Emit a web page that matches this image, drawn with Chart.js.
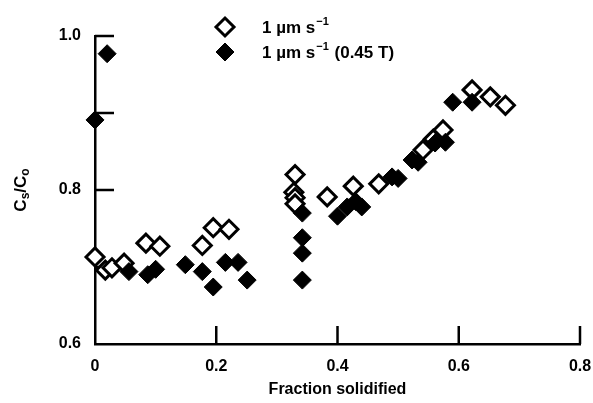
<!DOCTYPE html>
<html>
<head>
<meta charset="utf-8">
<script src="https://cdn.jsdelivr.net/npm/chart.js@4"></script>
<style>
  body { margin: 0; background: #fff; }
  canvas { display: block; }
</style>
</head>
<body>
<canvas id="chart" width="593" height="403"></canvas>
<script>
// 1 um/s (open diamonds)
const openX = [0.0, 0.017, 0.028, 0.048, 0.084, 0.107, 0.177, 0.195, 0.221, 0.330, 0.328, 0.330, 0.330, 0.383, 0.426, 0.468, 0.541, 0.558, 0.574, 0.622, 0.652, 0.677];
const openY = [0.713, 0.696, 0.699, 0.705, 0.731, 0.727, 0.728, 0.751, 0.749, 0.820, 0.797, 0.790, 0.782, 0.791, 0.805, 0.808, 0.852, 0.866, 0.878, 0.930, 0.921, 0.910];
// 1 um/s with 0.45 T field (filled diamonds)
const filledX = [0.020, 0.0, 0.056, 0.087, 0.100, 0.149, 0.177, 0.195, 0.215, 0.236, 0.251, 0.342, 0.342, 0.342, 0.342, 0.400, 0.416, 0.430, 0.440, 0.490, 0.500, 0.523, 0.533, 0.561, 0.578, 0.590, 0.622];
const filledY = [0.977, 0.891, 0.694, 0.690, 0.697, 0.703, 0.694, 0.674, 0.706, 0.706, 0.683, 0.770, 0.738, 0.718, 0.683, 0.766, 0.778, 0.785, 0.778, 0.817, 0.815, 0.839, 0.836, 0.861, 0.862, 0.914, 0.914];

const xTicks = [0, 0.2, 0.4, 0.6, 0.8];
const yTickLabels = ['0.6', '0.8', '1.0'];
const seriesLabels = ['1 \u00b5m s', '1 \u00b5m s'];

const FONT = '"Liberation Sans", Arial, sans-serif';

const toPoints = (xs, ys) => xs.map((x, i) => ({ x: x, y: ys[i] }));

// inward tick marks, the library only draws them outward
const innerTicks = {
    id: 'innerTicks',
    beforeDatasetsDraw(chart) {
        const ctx = chart.ctx;
        const x = chart.scales.x, y = chart.scales.y;
        ctx.save();
        ctx.strokeStyle = '#000';
        ctx.lineWidth = 2.5;
        ctx.beginPath();
        xTicks.forEach(v => {
            if (v === 0) return;
            const px = x.getPixelForValue(v);
            ctx.moveTo(px, y.bottom);
            ctx.lineTo(px, y.bottom - 18);
        });
        [0.7, 0.8, 0.9, 1.0].forEach(v => {
            const py = y.getPixelForValue(v);
            ctx.moveTo(x.left, py);
            ctx.lineTo(x.left + 19, py);
        });
        ctx.stroke();
        ctx.restore();
    }
};

// legend and y title with sub/superscripts
const labelsPlugin = {
    id: 'labelsPlugin',
    afterDraw(chart) {
        const ctx = chart.ctx;
        ctx.save();
        ctx.textBaseline = 'middle';
        ctx.textAlign = 'left';

        const rows = [27, 52];
        rows.forEach((ry, i) => {
            const ds = chart.data.datasets[i];
            ctx.fillStyle = ds.backgroundColor;
            ctx.strokeStyle = '#000';
            ctx.lineWidth = ds.borderWidth;
            ctx.beginPath();
            ctx.moveTo(225, ry - 9); ctx.lineTo(234, ry); ctx.lineTo(225, ry + 9); ctx.lineTo(216, ry);
            ctx.closePath();
            ctx.fill();
            ctx.stroke();

            ctx.fillStyle = '#000';
            ctx.font = 'bold 17px ' + FONT;
            let tx = 262;
            ctx.fillText(seriesLabels[i], tx, ry + 1);
            tx += ctx.measureText(seriesLabels[i]).width + 1;
            ctx.font = 'bold 11px ' + FONT;
            ctx.fillText('\u22121', tx, ry - 5);
            tx += ctx.measureText('\u22121').width;
            if (i === 1) {
                ctx.font = 'bold 17px ' + FONT;
                ctx.fillText(' (0.45 T)', tx + 1, ry + 1);
            }
        });

        // y axis title C_s/C_o
        ctx.fillStyle = '#000';
        ctx.translate(21, 190);
        ctx.rotate(-Math.PI / 2);
        const parts = [['C', 17, 0], ['s', 12, 5], ['/C', 17, 0], ['o', 12, 5]];
        let w = 0;
        parts.forEach(p => { ctx.font = 'bold ' + p[1] + 'px ' + FONT; w += ctx.measureText(p[0]).width; });
        let px = -w / 2;
        parts.forEach(p => {
            ctx.font = 'bold ' + p[1] + 'px ' + FONT;
            ctx.fillText(p[0], px, p[2]);
            px += ctx.measureText(p[0]).width;
        });
        ctx.restore();
    }
};

new Chart(document.getElementById('chart'), {
    type: 'scatter',
    data: {
        datasets: [
            {
                label: '1 \u00b5m s\u207b\u00b9',
                data: toPoints(openX, openY),
                pointStyle: 'rectRot',
                pointRadius: 9,
                pointHoverRadius: 9,
                backgroundColor: '#fff',
                borderColor: '#000',
                borderWidth: 3,
                clip: false,
                order: 1,
            },
            {
                label: '1 \u00b5m s\u207b\u00b9 (0.45 T)',
                data: toPoints(filledX, filledY),
                pointStyle: 'rectRot',
                pointRadius: 9,
                pointHoverRadius: 9,
                backgroundColor: '#000',
                borderColor: '#000',
                borderWidth: 1,
                clip: false,
                order: 0,
            }
        ]
    },
    options: {
        responsive: false,
        animation: false,
        layout: { padding: { top: 36, right: 13, left: 0, bottom: 0 } },
        plugins: { legend: { display: false }, tooltip: { enabled: false } },
        scales: {
            x: {
                type: 'linear',
                min: 0, max: 0.8,
                afterFit: s => { s.height = 59; s.paddingLeft = 0; s.paddingRight = 0; },
                afterBuildTicks: s => { s.ticks = xTicks.map(v => ({ value: v })); },
                grid: { display: false, drawTicks: false },
                border: { display: true, color: '#000', width: 2.5 },
                ticks: {
                    color: '#000',
                    padding: 13,
                    font: { family: FONT, size: 16, weight: 'bold' },
                    callback: v => String(v)
                },
                title: {
                    display: true,
                    text: 'Fraction solidified',
                    color: '#000',
                    padding: { top: 4 },
                    font: { family: FONT, size: 16, weight: 'bold' }
                }
            },
            y: {
                min: 0.6, max: 1.0,
                afterFit: s => { s.width = 95; s.paddingTop = 0; s.paddingBottom = 0; },
                afterBuildTicks: s => { s.ticks = yTickLabels.map(v => ({ value: Number(v) })); },
                grid: { display: false, drawTicks: false },
                border: { display: true, color: '#000', width: 2.5 },
                ticks: {
                    color: '#000',
                    padding: 14,
                    font: { family: FONT, size: 16, weight: 'bold' },
                    callback: v => v.toFixed(1)
                }
            }
        }
    },
    plugins: [innerTicks, labelsPlugin]
});
</script>
</body>
</html>
